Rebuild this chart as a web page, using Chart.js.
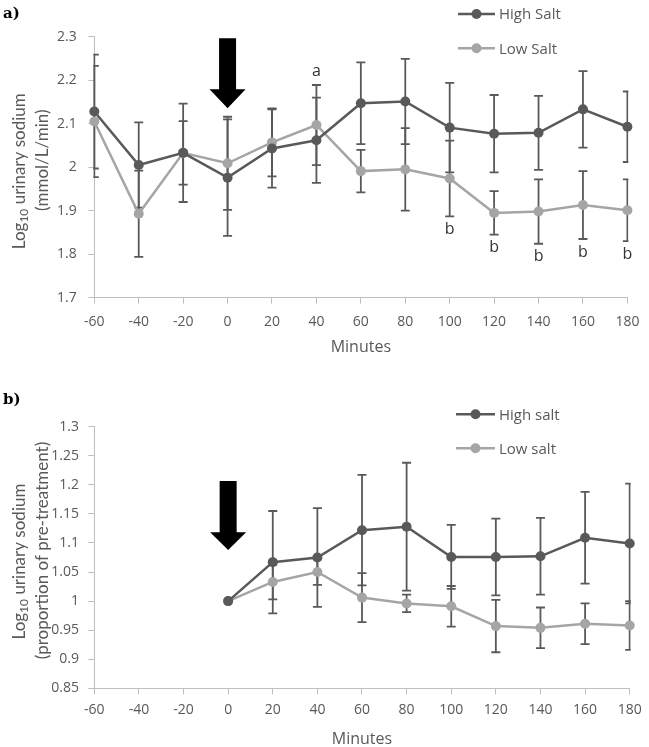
<!DOCTYPE html>
<html>
<head>
<meta charset="utf-8">
<script src="https://cdn.jsdelivr.net/npm/chart.js@4.4.1/dist/chart.umd.min.js"></script>
<style>
html, body { margin: 0; padding: 0; background: #fff; overflow: hidden; width: 649px; height: 747px; }
#wrapA { position: absolute; left: 0; top: 0; width: 649px; height: 370px; }
#wrapB { position: absolute; left: 0; top: 370px; width: 649px; height: 390px; }
.panel { position: absolute; left: 3px; font: bold 15px "DejaVu Serif", serif; color: #000; }
</style>
</head>
<body>
<div id="wrapA"><canvas id="chartA" width="649" height="370"></canvas></div>
<div id="wrapB"><canvas id="chartB" width="649" height="390"></canvas></div>
<div class="panel" style="top:4px">a)</div>
<div class="panel" style="top:390px">b)</div>
<script>
// panel a: absolute values
const minutesA = [-60, -40, -20, 0, 20, 40, 60, 80, 100, 120, 140, 160, 180];
const highA = [2.128, 2.005, 2.033, 1.976, 2.043, 2.062, 2.147, 2.151, 2.091, 2.077, 2.079, 2.133, 2.093];
const lowA = [2.105, 1.893, 2.033, 2.009, 2.057, 2.097, 1.991, 1.995, 1.974, 1.895, 1.898, 1.913, 1.901];
const highErrA = [0.131, 0.098, 0.113, 0.134, 0.090, 0.098, 0.094, 0.098, 0.103, 0.089, 0.085, 0.088, 0.081];
const lowErrA = [0.128, 0.099, 0.073, 0.107, 0.078, 0.092, 0.049, 0.095, 0.087, 0.050, 0.074, 0.078, 0.071];
const sigAboveA = ['', '', '', '', '', 'a', '', '', '', '', '', '', ''];
const sigBelowA = ['', '', '', '', '', '', '', '', 'b', 'b', 'b', 'b', 'b'];
const yTicksA = [1.7, 1.8, 1.9, 2, 2.1, 2.2, 2.3];

// panel b: proportion of pre-treatment
const minutesB = [0, 20, 40, 60, 80, 100, 120, 140, 160, 180];
const highB = [1.0, 1.067, 1.075, 1.122, 1.128, 1.076, 1.076, 1.077, 1.109, 1.099];
const lowB = [1.0, 1.033, 1.050, 1.006, 0.996, 0.991, 0.957, 0.954, 0.961, 0.958];
const highErrB = [0, 0.088, 0.085, 0.095, 0.110, 0.055, 0.066, 0.066, 0.079, 0.103];
const lowErrB = [0, 0.030, 0.022, 0.042, 0.015, 0.035, 0.045, 0.035, 0.035, 0.042];
const yTicksB = [0.85, 0.9, 0.95, 1, 1.05, 1.1, 1.15, 1.2, 1.25, 1.3];

const xTicks = [-60, -40, -20, 0, 20, 40, 60, 80, 100, 120, 140, 160, 180];

const DARK = '#595959';
const LIGHT = '#a5a5a5';
const AXIS = '#bfbfbf';
const FONT = '"Open Sans", sans-serif';
const TITLE_FONT = 'Lato, "Open Sans", sans-serif';

function points(xs, ys) {
    return xs.map((x, i) => ({ x: x, y: ys[i] }));
}

const errorBars = {
    id: 'errorBars',
    beforeDatasetsDraw(chart) {
        const { ctx, chartArea, scales: { x, y } } = chart;
        ctx.save();
        ctx.beginPath();
        ctx.rect(chartArea.left - 1, 0, chartArea.width + 2, chart.height);
        ctx.clip();
        ctx.strokeStyle = DARK;
        ctx.lineWidth = 1.8;
        chart.data.datasets.forEach(ds => {
            ds.data.forEach((p, i) => {
                const e = ds.errors[i];
                if (!e) return;
                const px = x.getPixelForValue(p.x);
                const top = y.getPixelForValue(p.y + e);
                const bot = y.getPixelForValue(p.y - e);
                ctx.beginPath();
                ctx.moveTo(px, top); ctx.lineTo(px, bot);
                ctx.moveTo(px - 4.5, top); ctx.lineTo(px + 4.5, top);
                ctx.moveTo(px - 4.5, bot); ctx.lineTo(px + 4.5, bot);
                ctx.stroke();
            });
        });
        ctx.restore();
    }
};

const sigLabels = {
    id: 'sigLabels',
    afterDatasetsDraw(chart, args, opts) {
        if (!opts.above) return;
        const { ctx, scales: { x, y } } = chart;
        const ds = chart.data.datasets[1];
        ctx.save();
        ctx.font = '16px ' + FONT;
        ctx.fillStyle = '#333';
        ctx.textAlign = 'center';
        ctx.textBaseline = 'middle';
        ds.data.forEach((p, i) => {
            const px = x.getPixelForValue(p.x);
            const e = ds.errors[i];
            if (opts.above[i]) ctx.fillText(opts.above[i], px, y.getPixelForValue(p.y + e) - 14);
            if (opts.below[i]) ctx.fillText(opts.below[i], px, y.getPixelForValue(p.y - e) + 13);
        });
        ctx.restore();
    }
};

const arrow = {
    id: 'arrow',
    afterDatasetsDraw(chart, args, opts) {
        const { ctx, scales: { x } } = chart;
        const cx = x.getPixelForValue(0);
        ctx.save();
        ctx.fillStyle = '#000';
        ctx.beginPath();
        ctx.moveTo(cx - 8.5, opts.top);
        ctx.lineTo(cx + 8.5, opts.top);
        ctx.lineTo(cx + 8.5, opts.head);
        ctx.lineTo(cx + 18, opts.head);
        ctx.lineTo(cx, opts.tip);
        ctx.lineTo(cx - 18, opts.head);
        ctx.lineTo(cx - 8.5, opts.head);
        ctx.closePath();
        ctx.fill();
        ctx.restore();
    }
};

const sideLegend = {
    id: 'sideLegend',
    afterDraw(chart, args, opts) {
        const { ctx } = chart;
        ctx.save();
        ctx.font = '15px ' + FONT;
        ctx.textBaseline = 'middle';
        ctx.textAlign = 'left';
        chart.data.datasets.forEach((ds, i) => {
            const yy = opts.ys[i];
            ctx.strokeStyle = ds.borderColor;
            ctx.lineWidth = 2.5;
            ctx.beginPath();
            ctx.moveTo(opts.x0, yy); ctx.lineTo(opts.x1, yy);
            ctx.stroke();
            ctx.fillStyle = ds.borderColor;
            ctx.beginPath();
            ctx.arc((opts.x0 + opts.x1) / 2, yy, 5, 0, Math.PI * 2);
            ctx.fill();
            ctx.fillStyle = DARK;
            ctx.fillText(ds.label, opts.x1 + 4, yy + 1);
        });
        ctx.restore();
    }
};

const yTitle = {
    id: 'yTitle',
    afterDraw(chart, args, opts) {
        const { ctx, chartArea } = chart;
        const cy = (chartArea.top + chartArea.bottom) / 2;
        ctx.save();
        ctx.fillStyle = DARK;
        ctx.textBaseline = 'middle';
        ctx.textAlign = 'left';
        // first line with subscript 10
        const big = '17px ' + TITLE_FONT, small = '12px ' + TITLE_FONT;
        const parts = [['Log', big, 0], ['10', small, 4], [' urinary sodium', big, 0]];
        let w = 0;
        parts.forEach(p => { ctx.font = p[1]; w += ctx.measureText(p[0]).width; });
        ctx.translate(opts.x1, cy + 4);
        ctx.rotate(-Math.PI / 2);
        let pos = -w / 2;
        parts.forEach(p => {
            ctx.font = p[1];
            ctx.fillText(p[0], pos, p[2]);
            pos += ctx.measureText(p[0]).width;
        });
        ctx.setTransform(1, 0, 0, 1, 0, 0);
        ctx.translate(opts.x2, cy - 7);
        ctx.rotate(-Math.PI / 2);
        ctx.font = big;
        ctx.textAlign = 'center';
        ctx.fillText(opts.line2, 0, 0);
        ctx.restore();
    }
};

function makeChart(id, c) {
    return new Chart(document.getElementById(id), {
        type: 'line',
        data: {
            datasets: [{
                label: c.names[0],
                data: points(c.minutes, c.high),
                errors: c.highErr,
                borderColor: DARK,
                backgroundColor: DARK,
                borderWidth: 2.5,
                pointRadius: 5,
                pointHoverRadius: 5,
                pointBorderWidth: 0,
                tension: 0,
                clip: 10
            }, {
                label: c.names[1],
                data: points(c.minutes, c.low),
                errors: c.lowErr,
                borderColor: LIGHT,
                backgroundColor: LIGHT,
                borderWidth: 2.5,
                pointRadius: 5,
                pointHoverRadius: 5,
                pointBorderWidth: 0,
                tension: 0,
                clip: 10
            }]
        },
        options: {
            responsive: false,
            animation: false,
            layout: { padding: c.padding },
            scales: {
                x: {
                    type: 'linear',
                    min: -60,
                    max: 180,
                    afterBuildTicks: s => { s.ticks = xTicks.map(v => ({ value: v })); },
                    afterFit: s => { s.height = c.xHeight; },
                    ticks: { color: DARK, font: { family: FONT, size: 14 }, padding: c.xPad, maxRotation: 0 },
                    grid: { drawOnChartArea: false, drawTicks: true, tickLength: 6, color: AXIS },
                    border: { color: AXIS },
                    title: { display: true, text: 'Minutes', color: DARK, font: { family: FONT, size: 16 }, padding: 0 }
                },
                y: {
                    min: c.yTicks[0],
                    max: c.yTicks[c.yTicks.length - 1],
                    afterBuildTicks: s => { s.ticks = c.yTicks.map(v => ({ value: v })); },
                    afterFit: s => { s.width = 94.3; },
                    ticks: { color: DARK, font: { family: FONT, size: 14 }, padding: c.yPad, callback: v => String(v) },
                    grid: { drawOnChartArea: false, drawTicks: true, tickLength: 6, color: AXIS },
                    border: { color: AXIS }
                }
            },
            plugins: {
                legend: { display: false },
                tooltip: { enabled: false },
                sigLabels: { above: c.sigAbove, below: c.sigBelow },
                arrow: c.arrow,
                sideLegend: c.legend,
                yTitle: { x1: 20, x2: 43, line2: c.line2 }
            }
        },
        plugins: [errorBars, sigLabels, arrow, sideLegend, yTitle]
    });
}

makeChart('chartA', {
    minutes: minutesA, high: highA, low: lowA, highErr: highErrA, lowErr: lowErrA,
    sigAbove: sigAboveA, sigBelow: sigBelowA, yTicks: yTicksA,
    names: ['High Salt', 'Low Salt'],
    line2: '(mmol/L/min)',
    padding: { top: 36.7, right: 15.7, bottom: 13.4, left: 0 },
    xHeight: 58.9, xPad: 9.6, yPad: 11.6,
    arrow: { top: 38.3, head: 89.3, tip: 108.3 },
    legend: { x0: 458, x1: 495, ys: [14, 48.3] }
});

makeChart('chartB', {
    minutes: minutesB, high: highB, low: lowB, highErr: highErrB, lowErr: lowErrB,
    sigAbove: null, sigBelow: null, yTicks: yTicksB,
    names: ['High salt', 'Low salt'],
    line2: '(proportion of pre-treatment)',
    padding: { top: 56.7, right: 16.7, bottom: 11.4, left: 0 },
    xHeight: 60.3, xPad: 7.3, yPad: 9.3,
    arrow: { top: 111, head: 162.3, tip: 180 },
    legend: { x0: 456, x1: 495, ys: [44.3, 78.3] }
});
</script>
</body>
</html>
